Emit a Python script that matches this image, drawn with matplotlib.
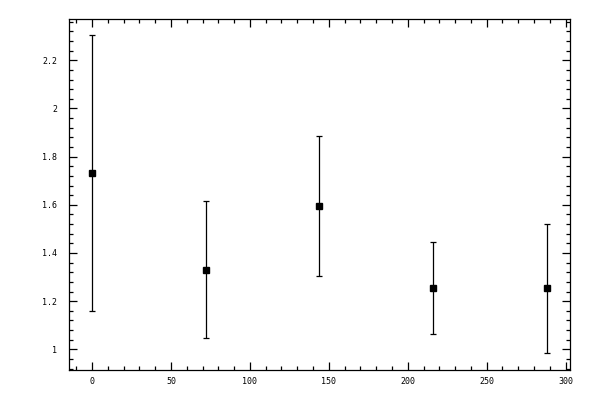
import matplotlib
matplotlib.use('Agg')
import matplotlib.pyplot as plt
from matplotlib.ticker import MultipleLocator

# values
x = [0, 72, 144, 216, 288]
y = [1.731, 1.328, 1.594, 1.253, 1.253]
y_low = [1.158, 1.046, 1.303, 1.062, 0.983]
y_high = [2.304, 1.615, 1.885, 1.444, 1.519]

err_lo = [m - lo for m, lo in zip(y, y_low)]
err_hi = [hi - m for m, hi in zip(y, y_high)]

fig = plt.figure(figsize=(6, 4), dpi=100)
ax = fig.add_axes([0.1155, 0.0743, 0.8345, 0.8775])

ax.errorbar(x, y, yerr=[err_lo, err_hi], fmt='s', color='black',
            markersize=5, elinewidth=0.9, capsize=2.5, capthick=0.9)

ax.set_xlim(-14.4, 302.8)
ax.set_ylim(0.913, 2.37)

ax.xaxis.set_major_locator(MultipleLocator(50))
ax.xaxis.set_minor_locator(MultipleLocator(10))
ax.yaxis.set_major_locator(MultipleLocator(0.2))
ax.yaxis.set_minor_locator(MultipleLocator(0.04))
ax.xaxis.set_major_formatter(plt.FuncFormatter(lambda v, p: f'{v:g}'))
ax.yaxis.set_major_formatter(plt.FuncFormatter(lambda v, p: f'{round(v, 2):g}'))

ax.tick_params(which='both', direction='in', top=True, right=True, width=0.9)
ax.tick_params(which='major', length=5.5)
ax.tick_params(which='minor', length=3)
ax.tick_params(axis='x', which='major', pad=5)
ax.tick_params(axis='y', which='major', pad=8.5)
for lab in ax.get_xticklabels() + ax.get_yticklabels():
    lab.set_fontfamily('DejaVu Sans Mono')
    lab.set_fontsize(6)
for sp in ax.spines.values():
    sp.set_linewidth(0.9)

plt.savefig('out.png', dpi=100)
